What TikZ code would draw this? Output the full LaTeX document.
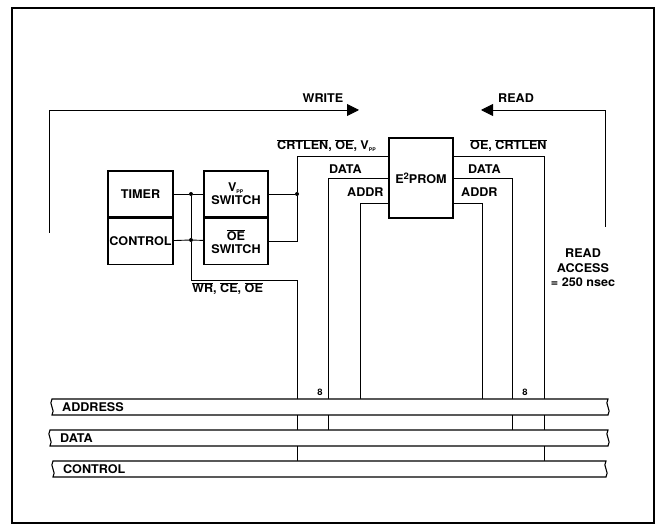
\documentclass[tikz,border=0pt]{standalone}
\usepackage{fontspec}
\setmainfont{TeX Gyre Heros}[FakeStretch=1.05]
\usetikzlibrary{positioning, arrows.meta, calc}
\newcommand{\nbar}[1]{$\overline{\mbox{#1}}$}
\newcommand{\vpp}{V\textsubscript{\fontsize{5}{5}\selectfont PP}}

\begin{document}
\begin{tikzpicture}[x=1pt, y=-1pt,
          every node/.style={font=\fontsize{12}{13}\selectfont\bfseries, inner sep=0pt},
          b/.style={draw, line width=1.6pt, minimum width=65pt, minimum height=46pt, align=center},
          w/.style={line width=0.9pt},
          dot/.style={circle, fill, minimum size=4pt},
          bus/.style={draw, fill=white, line width=1.1pt},
          big/.style={-{Triangle[length=12pt,width=12pt]}}]
        \useasboundingbox (0,0) rectangle (657,526);
        \draw[line width=1.6pt] (12,8) rectangle (654,523);
        % blocks
        \node[b] (timer) at (140.5,194) {TIMER};
        \node[b, below=0pt of timer] (ctrl) {CONTROL};
        \node[b, minimum width=64pt] (vsw) at (236,194) {\vpp\\SWITCH};
        \node[b, minimum width=64pt, below=0pt of vsw] (osw) {\nbar{OE}\\SWITCH};
        \node[b, minimum width=64pt, minimum height=80pt] (eprom) at (421,178)
          {E\raisebox{4pt}{\fontsize{9}{9}\selectfont 2}PROM};
        \node[dot] (j1) at (191,194) {};
        \node[dot] (j2) at (191,240) {};
        \node[dot] (j3) at (297,194) {};
        % bus taps
        \foreach \n/\x/\y in {ctap1/297/461, dtap1/328/430, atap1/360/399,
                              atap2/482/399, dtap2/512/430, ctap2/544/461}
          \coordinate (\n) at (\x,\y);
        \coordinate (wrfoot) at (49,233);
        \coordinate (wrtip) at (359,110);
        \coordinate (rdfoot) at (605,227);
        \coordinate (rdtip) at (481,110);
        % wires
        \draw[w] (timer) -- (j1) -- (vsw);
        \draw[w] (ctrl) -- (j2) -- (osw);
        \draw[w] (j1) -- (j2) -- (191,280) -| (ctap1);
        \draw[w] (vsw) -- (j3);
        \draw[w] (osw) -| (j3) |- ([yshift=22pt]eprom.west);
        \draw[w] (eprom.west) -| (dtap1);
        \draw[w] ([yshift=-25pt]eprom.west) -| (atap1);
        \draw[w] ([yshift=22pt]eprom.east) -| (ctap2);
        \draw[w] (eprom.east) -| (dtap2);
        \draw[w] ([yshift=-25pt]eprom.east) -| (atap2);
        \draw[w, big] (wrfoot) |- (wrtip);
        \draw[w, big] (rdfoot) |- (rdtip);
        % buses
        \foreach \yt/\xl/\xr/\name in {399/52/608/ADDRESS, 430/50/608/DATA, 461/53/606/CONTROL} {
          \draw[bus] (\xl,\yt) -- (\xr,\yt)
            .. controls (\xr-4,\yt+5) and (\xr+4,\yt+11) .. (\xr,\yt+16) -- (\xl,\yt+16)
            .. controls (\xl+4,\yt+11) and (\xl-4,\yt+5) .. (\xl,\yt) -- cycle;
          \node[anchor=base west] (lb\name) at (\xl+10,\yt+13) {\name};
        }
        % labels
        \node[anchor=base] (lwrite) at (323,103) {WRITE};
        \node[anchor=base] (lread) at (516,103) {READ};
        \node[anchor=base west] (lsigl) at (277,150) {\nbar{CRTLEN}, \nbar{OE}, \vpp};
        \node[anchor=base west] (lsigr) at (470,150) {\nbar{OE}, \nbar{CRTLEN}};
        \node[anchor=base west] (ldatl) at (329,174) {DATA};
        \node[anchor=base west] (laddl) at (347,197) {ADDR};
        \node[anchor=base west] (ldatr) at (468,174) {DATA};
        \node[anchor=base west] (laddr) at (461,197) {ADDR};
        \node[anchor=base west] (lwce) at (192,293) {\nbar{WR}, \nbar{CE}, \nbar{OE}};
        \node[align=center, anchor=base] (lacc) at (583,287)
          {READ\\[2pt]ACCESS\\[1pt]= 250 nsec};
        \node[anchor=base, font=\fontsize{9}{9}\selectfont\bfseries] (n8l) at (320,396) {8};
        \node[anchor=base, font=\fontsize{9}{9}\selectfont\bfseries] (n8r) at (525,396) {8};
      \end{tikzpicture}
\end{document}
